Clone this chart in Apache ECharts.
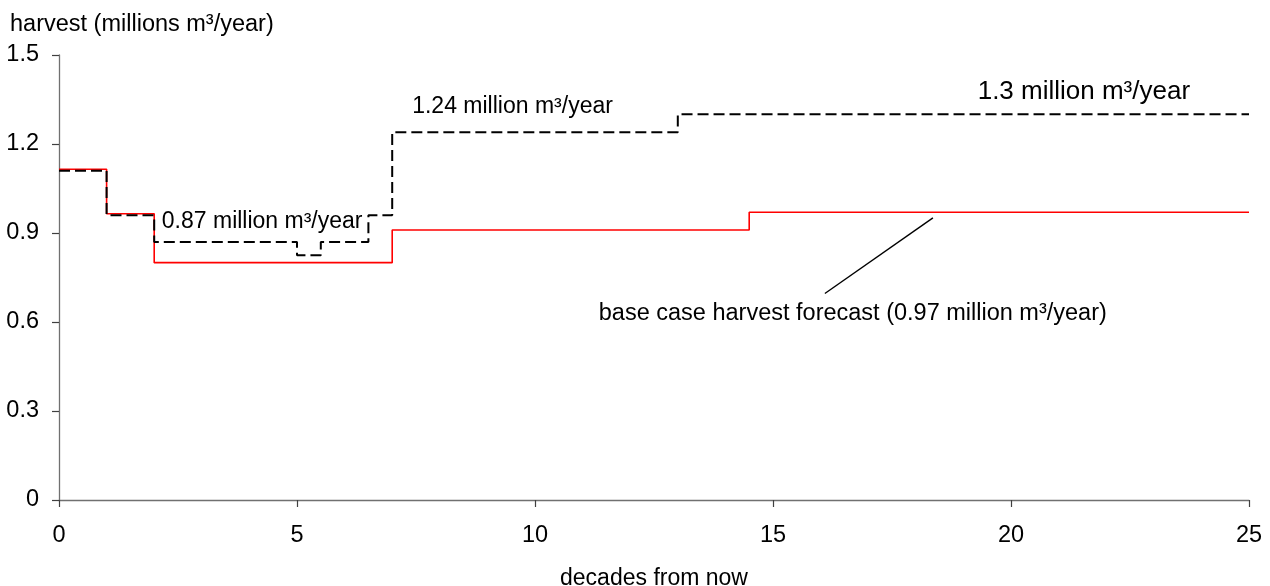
<!DOCTYPE html>
<html>
<head>
<meta charset="utf-8">
<script src="https://cdn.jsdelivr.net/npm/echarts@6/dist/echarts.min.js"></script>
<style>
  html, body { margin: 0; padding: 0; background: #fff; }
  #chart { width: 1270px; height: 586px; }
</style>
</head>
<body>
<div id="chart"></div>
<script>
// Step edges (decades) and harvest levels (millions m³/year) for each period
const baseEdges = [0, 1, 2, 7, 14.5, 25];
const baseLevels = [1.115, 0.965, 0.80, 0.91, 0.97];

const altEdges = [0, 1, 2, 5, 5.5, 6.5, 7, 13, 25];
const altLevels = [1.11, 0.96, 0.87, 0.825, 0.87, 0.96, 1.24, 1.30];

const xTicks = [0, 5, 10, 15, 20, 25];
const yTicks = [0, 0.3, 0.6, 0.9, 1.2, 1.5];

// Annotation texts anchored at their left edge / vertical centre
const notes = [
  { text: '0.87 million m³/year', x: 2.16, y: 0.938, size: 23 },
  { text: '1.24 million m³/year', x: 7.42, y: 1.326, size: 23 },
  { text: '1.3 million m³/year', x: 19.3, y: 1.376, size: 26 },
  { text: 'base case harvest forecast (0.97 million m³/year)', x: 11.34, y: 0.627, size: 23.5 }
];
// Leader line from the base case caption to its curve
const leaderX = [16.09, 18.36];
const leaderY = [0.696, 0.951];

function stepPoints(edges, levels) {
  const pts = levels.map((v, i) => [edges[i], v]);
  pts.push([edges[edges.length - 1], levels[levels.length - 1]]);
  return pts;
}

const FONT = '"Liberation Sans", Arial, sans-serif';
const chart = echarts.init(document.getElementById('chart'), null, { renderer: 'canvas' });

chart.setOption({
  animation: false,
  backgroundColor: '#ffffff',
  textStyle: { fontFamily: FONT, color: '#000' },
  title: {
    text: 'harvest (millions m³/year)',
    left: 5,
    top: 8,
    textStyle: { fontFamily: FONT, fontSize: 23.5, fontWeight: 'normal', color: '#000' }
  },
  grid: { left: 59, right: 21, top: 55, bottom: 86, containLabel: false, outerBoundsMode: 'none' },
  xAxis: {
    type: 'value',
    min: xTicks[0],
    max: xTicks[xTicks.length - 1],
    interval: 5,
    name: 'decades from now',
    nameLocation: 'middle',
    nameGap: 67,
    nameTextStyle: { fontFamily: FONT, fontSize: 23, color: '#000' },
    axisLine: { show: true, lineStyle: { color: '#707070', width: 1.3 } },
    axisTick: { show: true, length: 7, lineStyle: { color: '#404040', width: 1.2 } },
    axisLabel: { margin: 24, fontFamily: FONT, fontSize: 23.5, color: '#000' },
    splitLine: { show: false }
  },
  yAxis: {
    type: 'value',
    min: yTicks[0],
    max: yTicks[yTicks.length - 1],
    interval: 0.3,
    axisLine: { show: true, lineStyle: { color: '#707070', width: 1.3 } },
    axisTick: { show: true, length: 7, lineStyle: { color: '#404040', width: 1.2 } },
    axisLabel: {
      margin: 20, fontFamily: FONT, fontSize: 23.5, color: '#000',
      formatter: v => String(Math.round(v * 10) / 10)
    },
    splitLine: { show: false }
  },
  series: [
    {
      name: 'base case',
      type: 'line',
      step: 'end',
      data: stepPoints(baseEdges, baseLevels),
      symbol: 'none',
      lineStyle: { color: '#ff0000', width: 1.6 },
      z: 2
    },
    {
      name: 'alternative',
      type: 'line',
      step: 'end',
      data: stepPoints(altEdges, altLevels),
      symbol: 'none',
      lineStyle: { color: '#000000', width: 2, type: [11, 5] },
      z: 3
    },
    {
      name: 'leader',
      type: 'line',
      data: leaderX.map((x, i) => [x, leaderY[i]]),
      symbol: 'none',
      lineStyle: { color: '#000000', width: 1.4 },
      z: 4
    },
    {
      name: 'notes',
      type: 'scatter',
      symbolSize: 0,
      itemStyle: { opacity: 1 },
      data: notes.map(n => ({
        value: [n.x, n.y],
        label: {
          show: true,
          position: 'right',
          distance: 0,
          formatter: n.text,
          fontFamily: FONT,
          fontSize: n.size,
          color: '#000',
          opacity: 1
        }
      })),
      silent: true,
      z: 5
    }
  ]
});
</script>
</body>
</html>
